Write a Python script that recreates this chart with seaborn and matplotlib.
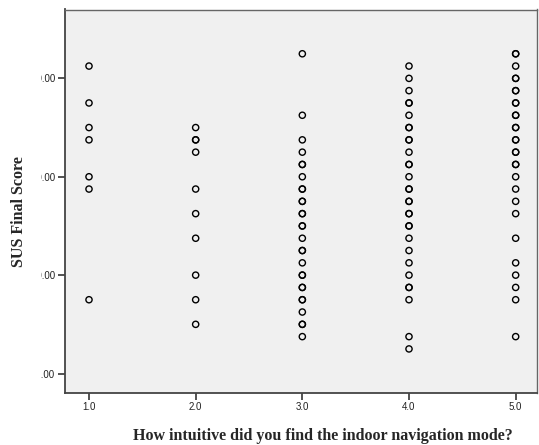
import matplotlib
matplotlib.use("Agg")
import matplotlib.pyplot as plt
import numpy as np
import pandas as pd
import seaborn as sns
from matplotlib.transforms import Bbox

# SUS final scores read per answer to the intuitiveness question
score_1 = [92.5, 85, 80, 77.5, 70, 67.5, 45]
score_2 = [80, 77.5, 77.5, 75, 67.5, 62.5, 57.5, 50, 45, 40]
score_3 = [95, 82.5, 77.5, 75, 72.5, 72.5, 70, 67.5, 67.5, 65, 65, 62.5, 62.5,
           60, 60, 57.5, 55, 55, 52.5, 50, 50, 47.5, 47.5, 45, 45, 42.5,
           40, 40, 37.5]
score_4 = [92.5, 90, 87.5, 85, 85, 82.5, 80, 80, 77.5, 77.5, 75, 72.5, 72.5,
           70, 67.5, 67.5, 65, 65, 62.5, 62.5, 60, 60, 57.5, 55, 52.5, 50,
           47.5, 47.5, 45, 37.5, 35]
score_5 = [95, 95, 92.5, 90, 90, 87.5, 87.5, 85, 85, 82.5, 82.5, 80, 80,
           77.5, 77.5, 75, 75, 72.5, 72.5, 70, 67.5, 65, 62.5, 57.5, 52.5,
           50, 47.5, 45, 37.5]
answers = [1.0, 2.0, 3.0, 4.0, 5.0]
y_ticks = [30, 50, 70, 90]
x_tick_labels = ["1.0", "2.0", "3.0", "4.0", "5.0"]
y_tick_labels = ["30.00", "50.00", "70.00", "90.00"]

groups = [score_1, score_2, score_3, score_4, score_5]
df = pd.DataFrame({
    "answer": np.concatenate([[a] * len(g) for a, g in zip(answers, groups)]),
    "score": np.concatenate(groups),
})

sns.set_style("ticks")
plt.rcParams["font.family"] = ["Liberation Sans", "DejaVu Sans"]

W, H = 539, 445
fig = plt.figure(figsize=(W / 100, H / 100), dpi=100)
ax = fig.add_axes([65 / W, 1 - 392.7 / H, (537 - 65) / W, (392.7 - 9.5) / H])
ax.set_facecolor("#f0f0f0")

sns.scatterplot(data=df, x="answer", y="score", ax=ax, marker="o", s=20,
                facecolor="none", edgecolor="black", linewidth=1.0, legend=False)

ax.set_xlim(0.775, 5.2)
ax.set_ylim(26.1, 104.0)
ax.set_xticks(answers)
ax.set_xticklabels(x_tick_labels)
ax.set_yticks(y_ticks)
ax.set_yticklabels(y_tick_labels)
ax.tick_params(axis="both", direction="out", length=5, width=1.2,
               color="#333333", labelsize=7, labelcolor="#222222", pad=2)

for side in ["left", "bottom"]:
    ax.spines[side].set_color("#444444")
    ax.spines[side].set_linewidth(1.3)
for side in ["top", "right"]:
    ax.spines[side].set_color("#666666")
    ax.spines[side].set_linewidth(1.0)

serif = ["Liberation Serif", "DejaVu Serif"]
ax.set_xlabel("How intuitive did you find the indoor navigation mode?",
              family=serif, fontweight="bold", fontsize=11.5)
ax.set_ylabel("SUS Final Score", family=serif, fontweight="bold", fontsize=11.5)
ax.xaxis.set_label_coords(0.547, -0.093)
ax.yaxis.set_label_coords(-0.08, 0.474)

# the y tick labels are cut off on the left in the original
clip = Bbox.from_extents(41, 0, W, H)
for lab in ax.get_yticklabels():
    lab.set_clip_box(clip)
    lab.set_clip_on(True)

fig.savefig("out.png", dpi=100)
